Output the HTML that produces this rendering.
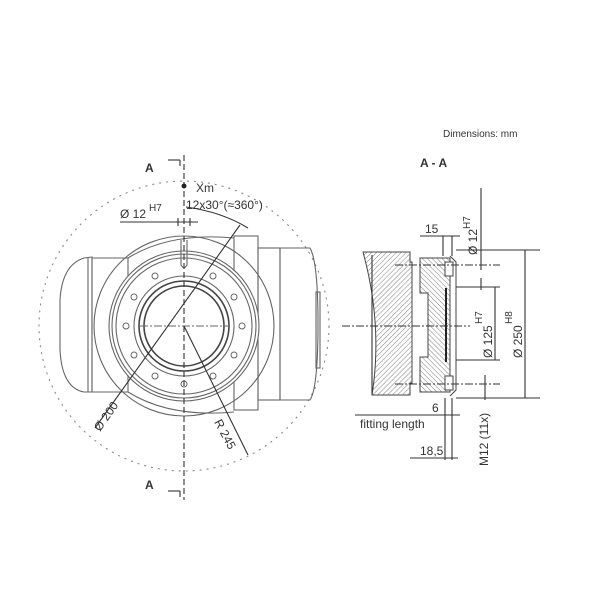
<!DOCTYPE html>
<html><head><meta charset="utf-8"><style>
html,body{margin:0;padding:0;background:#fff;}
svg{display:block;font-family:"Liberation Sans",Arial,sans-serif;}
</style></head><body>
<svg width="600" height="600" viewBox="0 0 600 600" xmlns="http://www.w3.org/2000/svg">
<defs>
<pattern id="h" width="3.5" height="3.5" patternUnits="userSpaceOnUse" patternTransform="rotate(45)">
<rect width="4" height="4" fill="#fff"/><line x1="0" y1="0" x2="0" y2="4" stroke="#888" stroke-width="1.1"/>
</pattern>
<pattern id="h2" width="3.5" height="3.5" patternUnits="userSpaceOnUse" patternTransform="rotate(-45)">
<rect width="4" height="4" fill="#fff"/><line x1="0" y1="0" x2="0" y2="4" stroke="#888" stroke-width="1.1"/>
</pattern>
</defs>
<g fill="none" stroke="#666" stroke-width="1.1">
<circle cx="184" cy="326" r="145" stroke="#888" stroke-dasharray="2,5"/>
<path d="M92,257 L84,258 Q62,265 60,300 L60,350 Q62,388 84,392 L92,392 Z"/>
<line x1="88" y1="258" x2="88" y2="392"/>
<path d="M92,258 L128,258 L128,392 L92,392 Z"/>
<path d="M128,258 Q170,232 234,238"/>
<path d="M128,392 Q170,418 234,412"/>
<circle cx="184" cy="326" r="90"/>
<rect x="234" y="236" width="24" height="174"/>
<rect x="258" y="248" width="22" height="152"/>
<path d="M280,248 L310,248 Q318,262 318,324 Q318,388 310,400 L280,400 Z"/>
<rect x="316" y="292" width="4" height="76"/>
<circle cx="184" cy="326" r="75" fill="#fff"/>
<circle cx="184" cy="326" r="72"/>
<circle cx="184" cy="326" r="68"/>
<circle cx="184" cy="326" r="50"/>
<circle cx="184" cy="326" r="45" stroke-width="1.6" stroke="#444"/>
<circle cx="184" cy="326" r="40" stroke-width="1.6" stroke="#444"/>
<path d="M181,240 L181,265 Q184,270 187,265 L187,240"/>
</g>
<g fill="#fff" stroke="#666" stroke-width="1">
<circle cx="213" cy="276" r="3"/><circle cx="234" cy="297" r="3"/><circle cx="242" cy="326" r="3"/>
<circle cx="234" cy="355" r="3"/><circle cx="213" cy="376" r="3"/><circle cx="184" cy="384" r="3"/>
<circle cx="155" cy="376" r="3"/><circle cx="134" cy="355" r="3"/><circle cx="126" cy="326" r="3"/>
<circle cx="134" cy="297" r="3"/><circle cx="155" cy="276" r="3"/>
</g>
<g stroke="#333" stroke-width="1.1" fill="none">
<line x1="184" y1="155" x2="184" y2="500" stroke-dasharray="6,3"/>
<line x1="140" y1="326" x2="228" y2="326" stroke-dasharray="8,2,2,2" stroke="#666"/>
<line x1="120" y1="222" x2="198" y2="222"/>
<line x1="178" y1="218" x2="178" y2="226"/><line x1="190" y1="218" x2="190" y2="226"/>
<line x1="168" y1="160" x2="180" y2="160"/><line x1="180" y1="160" x2="180" y2="166"/>
<line x1="168" y1="491" x2="180" y2="491"/><line x1="180" y1="491" x2="180" y2="497"/>
<line x1="95" y1="428" x2="240" y2="225"/>
<line x1="184" y1="326" x2="248" y2="455"/>
<path d="M186,207 Q222,212 248,228"/>
</g>
<circle cx="184" cy="186" r="2.5" fill="#222"/>
<g fill="#333" font-size="12">
<text x="145" y="172" font-weight="bold" font-size="12">A</text>
<text x="145" y="489" font-weight="bold" font-size="12">A</text>
<text x="196" y="192">Xm</text>
<text x="186" y="209">12x30°(≈360°)</text>
<text x="120" y="218">Ø 12</text><text x="149" y="211" font-size="10">H7</text>
<text transform="translate(100,432) rotate(-55)">Ø 200</text>
<text transform="translate(214,422) rotate(62)">R 245</text>
<text x="443" y="137" font-size="10">Dimensions: mm</text>
<text x="420" y="167" font-weight="bold">A - A</text>
</g>
<g stroke="#444" stroke-width="1">
<path d="M363,252 L410,252 L410,262 L412,262 L412,383 L410,383 L410,395 L372,395 Q383,325 363,252 Z" fill="url(#h)"/>
<path d="M420,258 L450,258 L450,392 L420,392 L420,357 L428,357 L428,293 L420,293 Z" fill="url(#h2)"/>
<line x1="446" y1="288" x2="446" y2="362" stroke="#222" stroke-width="2"/>
<rect x="445" y="262" width="8" height="14" fill="#fff"/>
<rect x="445" y="376" width="8" height="14" fill="#fff"/>
<path d="M450,256 L456,262 L456,390 L450,396" fill="none"/>
</g>
<g stroke="#333" stroke-width="1.1" fill="none">
<line x1="342" y1="326" x2="470" y2="326" stroke-dasharray="8,2,2,2"/>
<line x1="395" y1="265" x2="500" y2="265" stroke-dasharray="8,2,2,2"/>
<line x1="395" y1="384" x2="500" y2="384" stroke-dasharray="8,2,2,2"/>
<line x1="372" y1="255" x2="372" y2="395"/>
<line x1="420" y1="236" x2="460" y2="236"/>
<line x1="443" y1="236" x2="443" y2="256"/><line x1="452" y1="236" x2="452" y2="256"/>
<line x1="456" y1="250" x2="540" y2="250"/>
<line x1="456" y1="398" x2="540" y2="398"/>
<line x1="525" y1="250" x2="525" y2="398"/>
<line x1="456" y1="287" x2="500" y2="287"/>
<line x1="456" y1="360" x2="500" y2="360"/>
<line x1="495" y1="287" x2="495" y2="360"/>
<line x1="481" y1="188" x2="481" y2="270"/>
<line x1="481" y1="278" x2="481" y2="290"/>
<line x1="485" y1="375" x2="485" y2="400"/>
<line x1="445" y1="398" x2="445" y2="460"/>
<line x1="452" y1="398" x2="452" y2="460"/>
<line x1="355" y1="415" x2="460" y2="415"/>
<line x1="410" y1="458" x2="458" y2="458"/>
</g>
<g fill="#333" font-size="12">
<text x="425" y="233">15</text>
<text x="432" y="412">6</text>
<text x="360" y="428">fitting length</text>
<text x="420" y="455">18,5</text>
<text transform="translate(477,255) rotate(-90)">Ø 12</text>
<text transform="translate(470,229) rotate(-90)" font-size="10">H7</text>
<text transform="translate(492,358) rotate(-90)">Ø 125</text>
<text transform="translate(482,324) rotate(-90)" font-size="10">H7</text>
<text transform="translate(522,358) rotate(-90)">Ø 250</text>
<text transform="translate(512,324) rotate(-90)" font-size="10">H8</text>
<text transform="translate(488,466) rotate(-90)">M12 (11x)</text>
</g>
</svg>
</body></html>
